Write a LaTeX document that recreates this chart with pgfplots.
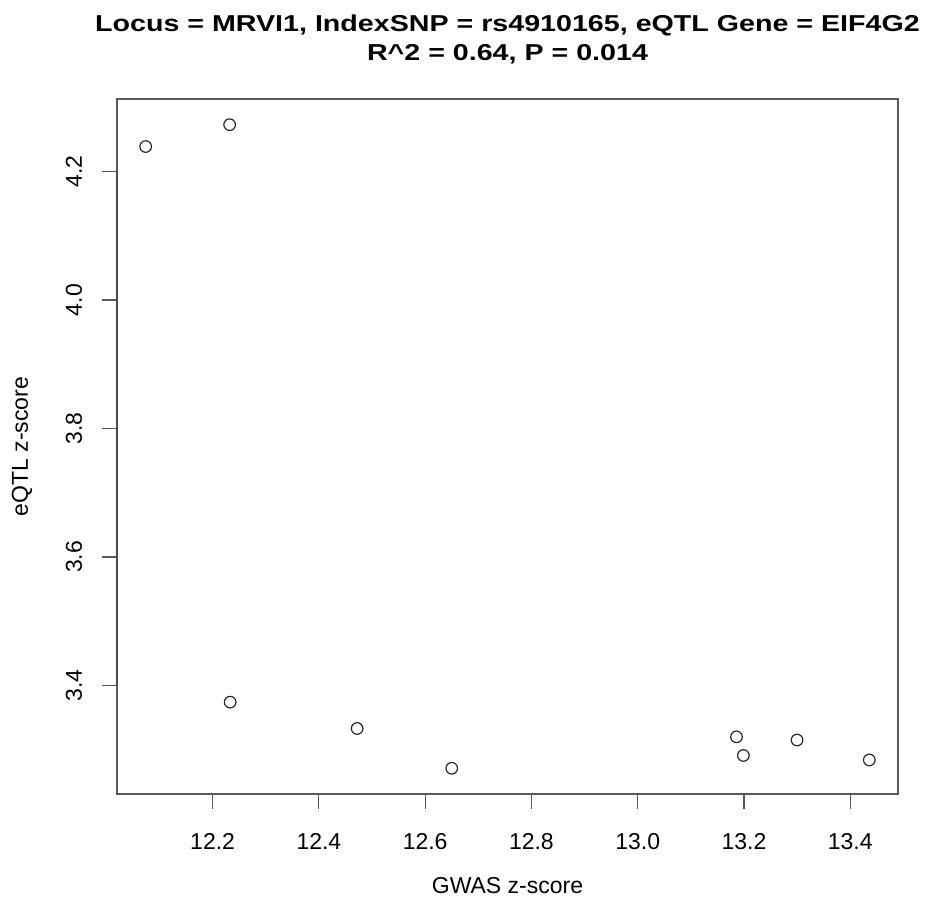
\documentclass[border=0pt]{standalone}
\usepackage{pgfplots}
\pgfplotsset{compat=1.18}
\usepackage{fontspec}
\setmainfont{Liberation Sans}
\newfontfamily\titlefont{Liberation Sans}[FakeStretch=1.245]
\definecolor{boxgray}{gray}{0.35}
\begin{document}
\begin{tikzpicture}
\useasboundingbox (-117bp,-117bp) rectangle (809bp,794bp);
\begin{axis}[
  at={(0,0)}, anchor=south west,
  scale only axis, width=781bp, height=695bp,
  xmin=12.020, xmax=13.490, ymin=3.231, ymax=4.313,
  axis line style={boxgray, line width=1.2bp},
  xtick={12.2,12.4,12.6,12.8,13.0,13.2,13.4},
  ytick={3.4,3.6,3.8,4.0,4.2},
  xticklabels={12.2,12.4,12.6,12.8,13.0,13.2,13.4},
  yticklabels={3.4,3.6,3.8,4.0,4.2},
  tick align=outside, major tick length=15bp,
  tick style={boxgray, line width=1.2bp},
  xtick pos=bottom, ytick pos=left,
  font=\fontsize{23bp}{27bp}\selectfont,
  xticklabel style={anchor=base, inner sep=0pt, yshift=-40bp},
  yticklabel style={rotate=90, anchor=base, inner sep=0pt, yshift=20bp},
  xlabel={GWAS z-score},
  ylabel={eQTL z-score},
  xlabel style={at={(axis description cs:0.5,-0.1324)}, anchor=center, inner sep=0pt},
  ylabel style={at={(axis description cs:-0.1216,0.5)}, rotate=0, anchor=center, inner sep=0pt},
  clip=false,
]
\addplot[only marks, mark=o, mark size=5.8bp, mark options={line width=1.2bp, draw=black!85}] table {
x y
12.074 4.239
12.232 4.273
12.233 3.374
12.472 3.333
12.650 3.271
13.186 3.320
13.199 3.291
13.300 3.315
13.436 3.284
};
\draw[boxgray, line width=1.4bp] (axis cs:12.2,3.231) -- (axis cs:13.4,3.231);
\draw[black!70, line width=1.6bp] (axis cs:12.020,3.4) -- (axis cs:12.020,4.2);
\node[anchor=base, inner sep=0pt, font=\titlefont\bfseries\fontsize{23bp}{27bp}\selectfont] at ([yshift=67bp]rel axis cs:0.5,1) {Locus = MRVI1, IndexSNP = rs4910165, eQTL Gene = EIF4G2};
\node[anchor=base, inner sep=0pt, font=\titlefont\bfseries\fontsize{23bp}{27bp}\selectfont] at ([yshift=38bp]rel axis cs:0.5,1) {R\textasciicircum 2 = 0.64, P = 0.014};
\end{axis}
\end{tikzpicture}
\end{document}
